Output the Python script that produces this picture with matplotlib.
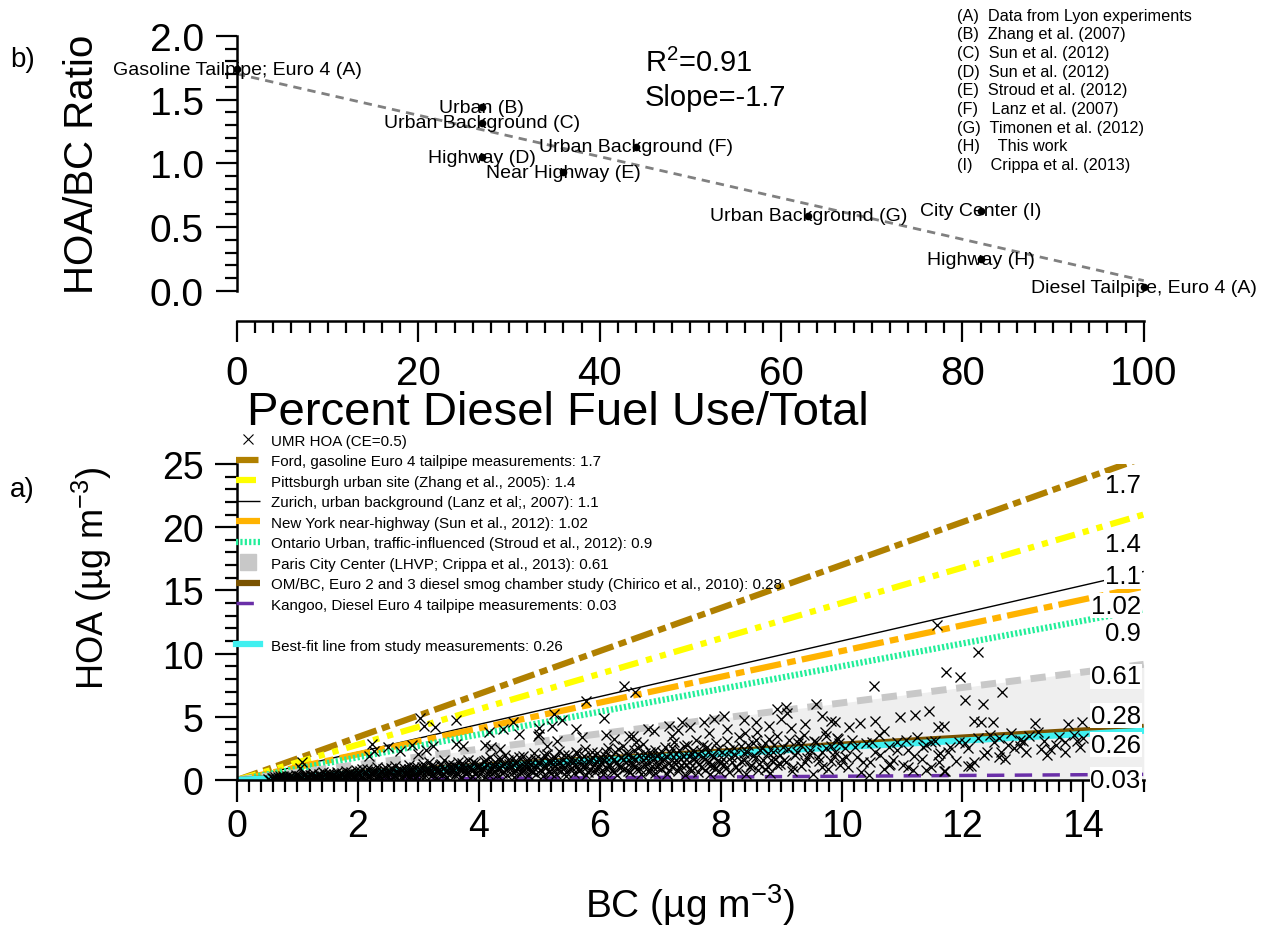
import numpy as np
import matplotlib
matplotlib.use('Agg')
import matplotlib.pyplot as plt
from matplotlib.lines import Line2D
from matplotlib.ticker import MultipleLocator, FormatStrFormatter

plt.rcParams['font.family'] = ['Liberation Sans', 'DejaVu Sans']
plt.rcParams['mathtext.fontset'] = 'custom'
plt.rcParams['mathtext.rm'] = 'Liberation Sans'
plt.rcParams['mathtext.it'] = 'Liberation Sans:italic'

# ---- panel b) datos
pct_diesel = [0, 27, 27, 27, 36, 44, 63, 82, 82, 100]
hoa_bc_ratio = [1.74, 1.44, 1.32, 1.05, 0.93, 1.13, 0.59, 0.63, 0.25, 0.03]
site_labels = ['Gasoline Tailpipe; Euro 4 (A)', 'Urban (B)', 'Urban Background (C)',
               'Highway (D)', 'Near Highway (E)', 'Urban Background (F)',
               'Urban Background (G)', 'City Center (I)', 'Highway (H)',
               'Diesel Tailpipe, Euro 4 (A)']
references = ['(A)  Data from Lyon experiments', '(B)  Zhang et al. (2007)',
              '(C)  Sun et al. (2012)', '(D)  Sun et al. (2012)',
              '(E)  Stroud et al. (2012)', '(F)   Lanz et al. (2007)',
              '(G)  Timonen et al. (2012)', '(H)    This work',
              '(I)    Crippa et al. (2013)']

# ---- panel a) datos
ref_slopes = [1.7, 1.4, 1.1, 1.02, 0.9, 0.61, 0.28, 0.03]
fit_slope = 0.26
ref_names = ['Ford, gasoline Euro 4 tailpipe measurements: 1.7',
             'Pittsburgh urban site (Zhang et al., 2005): 1.4',
             'Zurich, urban background (Lanz et al;, 2007): 1.1',
             'New York near-highway (Sun et al., 2012): 1.02',
             'Ontario Urban, traffic-influenced (Stroud et al., 2012): 0.9',
             'Paris City Center (LHVP; Crippa et al., 2013): 0.61',
             'OM/BC, Euro 2 and 3 diesel smog chamber study (Chirico et al., 2010): 0.28',
             'Kangoo, Diesel Euro 4 tailpipe measurements: 0.03']
fit_name = 'Best-fit line from study measurements: 0.26'
end_labels = ['1.7', '1.4', '1.1', '1.02', '0.9', '0.61', '0.28', '0.26', '0.03']
end_label_y = [23.3, 18.7, 16.1, 13.8, 11.6, 8.2, 5.1, 2.8, 0.0]

umr_points = [
    (0.52,0.10),(0.55,0.04),(0.58,0.18),(0.61,0.09),(0.63,0.25),(0.66,0.05),(0.69,0.14),(0.71,0.30),
    (0.74,0.08),(0.77,0.20),(0.79,0.03),(0.82,0.35),(0.85,0.12),(0.87,0.22),(0.90,0.06),(0.93,0.28),
    (0.95,0.15),(0.98,0.40),(1.01,0.10),(1.03,0.31),(1.06,0.19),(1.09,0.05),(1.12,0.44),(1.14,0.25),
    (1.17,0.12),(1.20,0.36),(1.23,0.07),(1.25,0.52),(1.28,0.21),(1.31,0.30),(1.33,0.11),(1.36,0.46),
    (1.39,0.17),(1.42,0.60),(1.44,0.08),(1.47,0.33),(1.50,0.24),(1.53,0.55),(1.55,0.13),(1.58,0.40),
    (1.61,0.06),(1.64,0.28),(1.66,0.67),(1.69,0.19),(1.72,0.47),(1.75,0.10),(1.77,0.35),(1.80,0.72),
    (1.83,0.23),(1.86,0.52),(1.88,0.09),(1.91,0.41),(1.94,0.30),(1.97,0.78),(1.99,0.16),
    (2.02,0.55),(2.05,0.27),(2.07,0.90),(2.10,0.12),(2.13,0.66),(2.16,0.38),(2.18,0.21),(2.21,0.80),
    (2.24,0.47),(2.27,0.09),(2.29,0.60),(2.32,1.02),(2.35,0.33),(2.38,0.72),(2.40,0.18),(2.43,0.52),
    (2.46,0.95),(2.49,0.28),(2.51,0.66),(2.54,0.11),(2.57,0.84),(2.60,0.43),(2.62,1.10),(2.65,0.24),
    (2.68,0.58),(2.71,0.76),(2.73,0.15),(2.76,0.98),(2.79,0.37),(2.82,0.63),(2.84,1.20),(2.87,0.29),
    (2.90,0.82),(2.93,0.50),(2.95,0.14),(2.98,1.05),
    (3.01,0.40),(3.04,0.78),(3.07,1.25),(3.09,0.22),(3.12,0.60),(3.15,0.95),(3.18,1.40),(3.21,0.35),
    (3.23,0.70),(3.26,1.10),(3.29,0.18),(3.32,0.52),(3.35,0.88),(3.37,1.30),(3.40,0.44),(3.43,1.55),
    (3.46,0.66),(3.48,0.27),(3.51,1.02),(3.54,0.80),(3.57,1.18),(3.60,0.38),(3.62,0.58),(3.65,1.45),
    (3.68,0.92),(3.71,0.25),(3.74,1.22),(3.76,0.70),(3.79,0.48),(3.82,1.60),(3.85,1.00),(3.88,0.32),
    (3.90,0.83),(3.93,1.35),(3.96,0.57),(3.99,1.12),
    (4.02,0.45),(4.05,0.95),(4.08,1.50),(4.10,0.28),(4.13,1.20),(4.16,0.70),(4.19,1.85),(4.22,0.52),
    (4.25,1.05),(4.27,1.40),(4.30,0.36),(4.33,0.85),(4.36,1.65),(4.39,1.15),(4.42,0.60),(4.44,2.00),
    (4.47,0.42),(4.50,1.30),(4.53,0.95),(4.56,1.75),(4.58,0.25),(4.61,0.75),(4.64,1.45),(4.67,1.10),
    (4.70,0.55),(4.73,1.90),(4.75,0.88),(4.78,1.25),(4.81,0.40),(4.84,1.60),(4.87,0.68),(4.90,1.05),
    (4.92,2.10),(4.95,0.50),(4.98,1.35),
    (5.01,0.80),(5.04,1.55),(5.07,0.35),(5.10,1.15),(5.13,2.05),(5.16,0.62),(5.19,1.40),(5.21,0.95),
    (5.24,1.80),(5.27,0.45),(5.30,1.25),(5.33,2.30),(5.36,0.75),(5.39,1.60),(5.42,1.05),(5.45,0.30),
    (5.48,1.95),(5.51,0.90),(5.54,1.35),(5.57,0.55),(5.60,2.20),(5.63,1.15),(5.66,0.70),(5.69,1.70),
    (5.72,1.00),(5.75,2.45),(5.78,0.40),(5.81,1.48),(5.84,0.85),(5.87,1.85),(5.90,1.20),(5.93,0.60),
    (5.96,2.10),(5.99,1.00),
    (6.02,1.40),(6.05,0.50),(6.08,1.90),(6.11,0.95),(6.14,2.50),(6.17,1.20),(6.20,0.70),(6.23,1.65),
    (6.26,2.20),(6.29,0.40),(6.32,1.05),(6.35,1.80),(6.38,2.70),(6.41,0.85),(6.44,1.40),(6.47,2.05),
    (6.50,0.60),(6.53,1.20),(6.56,2.40),(6.59,1.60),(6.62,0.90),(6.65,1.95),(6.68,0.45),(6.71,2.85),
    (6.74,1.30),(6.77,1.75),(6.80,0.75),(6.83,2.25),(6.86,1.10),(6.89,1.55),(6.92,0.55),(6.95,2.00),
    (6.98,1.25),
    (7.02,0.90),(7.05,1.70),(7.08,2.60),(7.11,0.50),(7.14,1.35),(7.17,2.15),(7.20,1.00),(7.23,3.00),
    (7.26,1.60),(7.29,0.70),(7.32,2.40),(7.35,1.20),(7.38,1.90),(7.41,0.40),(7.44,2.75),(7.47,1.45),
    (7.50,0.95),(7.53,2.05),(7.56,1.70),(7.59,3.20),(7.62,0.60),(7.65,1.25),(7.68,2.30),(7.71,1.85),
    (7.74,0.80),(7.77,2.60),(7.80,1.40),(7.83,0.45),(7.86,2.00),(7.89,1.10),(7.92,2.90),(7.95,1.60),
    (7.98,0.70),
    (8.02,2.20),(8.06,1.30),(8.10,3.10),(8.14,0.60),(8.18,1.80),(8.22,2.55),(8.26,1.00),(8.30,3.40),
    (8.34,1.50),(8.38,2.10),(8.42,0.45),(8.46,2.80),(8.50,1.20),(8.54,1.90),(8.58,3.20),(8.62,0.80),
    (8.66,2.40),(8.70,1.55),(8.74,2.95),(8.78,1.05),(8.82,0.55),(8.86,2.20),(8.90,1.70),(8.94,3.50),
    (8.98,1.25),
    (9.03,2.60),(9.08,1.40),(9.13,3.20),(9.18,0.70),(9.23,2.00),(9.28,2.90),(9.33,1.10),(9.38,3.60),
    (9.43,1.75),(9.48,2.40),(9.53,0.50),(9.58,3.00),(9.63,1.50),(9.68,2.20),(9.73,3.80),(9.78,0.90),
    (9.83,2.70),(9.88,1.90),(9.93,3.30),(9.98,1.20),
    (10.05,2.50),(10.10,1.00),(10.18,3.20),(10.25,1.80),(10.32,0.60),(10.40,2.90),(10.47,1.45),
    (10.55,2.20),(10.62,3.60),(10.70,0.90),(10.78,2.60),(10.85,1.60),(10.92,3.00),
    (11.02,1.20),(11.10,2.40),(11.18,0.80),(11.25,3.40),(11.33,1.70),(11.40,2.80),(11.48,1.05),
    (11.55,3.10),(11.63,2.10),(11.72,0.70),(11.80,2.60),(11.90,1.50),
    (12.05,2.90),(12.15,1.10),(12.25,3.30),(12.40,2.20),(12.52,3.00),(12.70,1.70),(12.85,2.50),
    (12.95,3.20),(13.10,3.50),(13.35,3.10),(13.55,2.80),(13.85,3.60),(13.95,2.60),
    # nucleo denso, segunda pasada
    (0.60,0.20),(0.64,0.12),(0.68,0.26),(0.72,0.15),(0.76,0.32),(0.80,0.18),(0.84,0.08),(0.88,0.30),
    (0.92,0.19),(0.96,0.11),(1.00,0.34),(1.04,0.22),(1.08,0.14),(1.11,0.38),(1.15,0.27),(1.19,0.16),
    (1.22,0.42),(1.26,0.30),(1.30,0.19),(1.34,0.08),(1.37,0.35),(1.41,0.26),(1.45,0.44),(1.48,0.14),
    (1.52,0.38),(1.56,0.29),(1.60,0.50),(1.63,0.18),(1.67,0.39),(1.71,0.27),(1.74,0.58),(1.78,0.14),
    (1.82,0.44),(1.85,0.31),(1.89,0.60),(1.93,0.21),(1.96,0.48),
    (2.00,0.36),(2.04,0.70),(2.08,0.20),(2.11,0.46),(2.15,0.85),(2.19,0.30),(2.22,0.58),(2.26,0.40),
    (2.30,0.75),(2.33,0.25),(2.37,0.52),(2.41,0.88),(2.44,0.36),(2.48,0.65),(2.52,0.46),(2.55,0.95),
    (2.59,0.30),(2.63,0.72),(2.66,0.50),(2.70,0.90),(2.74,0.38),(2.77,0.62),(2.81,0.45),(2.85,0.85),
    (2.88,0.55),(2.92,1.00),(2.96,0.35),(2.99,0.70),(3.03,0.55),(3.06,1.05),(3.10,0.45),(3.14,0.82),
    (3.17,0.62),(3.21,1.15),(3.25,0.50),(3.28,0.90),(3.32,0.70),(3.36,1.20),(3.39,0.40),(3.43,0.95),
    (3.47,0.75),(3.50,1.30),(3.54,0.55),(3.58,0.88),(3.61,1.08),(3.65,0.48),(3.69,0.80),(3.72,1.35),
    (3.76,0.95),(3.80,0.62),(3.83,1.15),(3.87,0.78),(3.91,1.45),(3.94,0.50),(3.98,0.92),
    (4.01,1.20),(4.05,0.68),(4.09,1.05),(4.12,1.55),(4.16,0.45),(4.20,0.90),(4.23,1.30),(4.27,0.75),
    (4.31,1.70),(4.34,1.00),(4.38,0.55),(4.42,1.25),(4.45,0.85),(4.49,1.55),(4.53,1.10),(4.56,0.62),
    (4.60,1.35),(4.64,0.95),(4.67,1.80),(4.71,0.70),(4.75,1.15),(4.78,1.50),(4.82,0.85),(4.86,1.25),
    (4.89,0.60),(4.93,1.70),(4.97,1.00),
    (5.00,1.40),(5.04,0.70),(5.08,1.95),(5.11,1.05),(5.15,1.50),(5.19,0.55),(5.22,1.25),(5.26,1.75),
    (5.30,0.85),(5.33,1.45),(5.37,1.10),(5.41,2.00),(5.44,0.65),(5.48,1.30),(5.52,1.70),(5.55,0.95),
    (5.59,1.55),(5.63,2.10),(5.66,0.80),(5.70,1.25),(5.74,1.90),(5.77,1.05),(5.81,0.60),(5.85,1.60),
    (5.88,2.25),(5.92,0.90),(5.96,1.40),(5.99,1.75),
    (6.03,0.80),(6.07,1.55),(6.11,2.25),(6.15,1.10),(6.19,1.80),(6.23,0.65),(6.27,1.35),(6.31,2.45),
    (6.35,1.00),(6.39,1.60),(6.43,2.10),(6.47,0.75),(6.51,1.45),(6.55,1.85),(6.59,1.10),(6.63,2.55),
    (6.67,0.90),(6.71,1.55),(6.75,2.15),(6.79,1.25),(6.83,0.70),(6.87,1.90),(6.91,2.40),(6.95,1.05),
    (6.99,1.65),
    (7.03,2.20),(7.07,1.15),(7.11,1.85),(7.15,0.80),(7.19,2.50),(7.23,1.40),(7.27,2.05),(7.31,0.95),
    (7.35,1.65),(7.39,2.70),(7.43,1.20),(7.47,1.90),(7.51,0.75),(7.55,2.35),(7.59,1.50),(7.63,2.05),
    (7.67,1.00),(7.71,2.80),(7.75,1.65),(7.79,2.20),(7.83,1.15),(7.87,1.80),(7.91,0.85),(7.95,2.45),
    (7.99,1.35),
    (8.04,1.70),(8.09,0.95),(8.14,2.40),(8.19,1.45),(8.24,2.00),(8.29,0.80),(8.34,2.70),(8.39,1.60),
    (8.44,2.25),(8.49,1.05),(8.54,2.90),(8.59,1.85),(8.64,1.30),(8.69,2.50),(8.74,0.90),(8.79,2.10),
    (8.84,1.60),(8.89,2.75),(8.94,1.20),(8.99,2.00),
    (9.05,1.60),(9.12,2.45),(9.19,1.00),(9.26,2.20),(9.33,2.80),(9.40,1.40),(9.47,2.05),(9.54,3.10),
    (9.61,1.80),(9.68,1.05),(9.75,2.50),(9.82,1.50),(9.89,2.25),(9.96,2.95),
    (10.08,1.80),(10.22,2.60),(10.36,1.40),(10.50,3.00),(10.64,2.00),(10.78,1.20),(10.92,2.40),
    (11.06,3.20),(11.20,1.90),(11.34,2.60),(11.48,3.00),(11.62,1.40),(11.76,2.20),(11.95,3.00),
    (12.10,2.50),(12.35,2.00),(12.45,3.60),(12.75,2.80),(13.00,3.10),(13.40,2.00),(13.60,3.40),
    (13.90,3.10),
    # puntos altos / dispersos
    (1.07,1.42),(1.04,0.95),(2.19,1.90),(2.23,2.85),(2.26,2.30),(2.50,2.60),(2.69,2.30),(2.89,2.77),
    (3.00,2.06),(3.13,2.37),(3.25,2.69),(3.02,4.90),(3.09,4.30),(3.27,4.20),(3.63,4.75),(3.63,2.85),
    (3.74,2.69),(4.17,3.80),(4.40,4.00),(4.57,4.60),(4.67,3.64),(4.98,3.48),(5.00,4.10),(4.20,2.60),
    (4.35,2.45),(4.10,2.80),(6.40,7.44),(6.58,6.96),(5.78,6.25),(5.25,5.22),(5.38,4.75),(5.21,4.27),
    (5.60,4.00),(6.07,4.90),(5.00,3.64),(5.13,2.69),(6.24,3.24),(6.49,3.48),(6.55,3.45),(6.80,4.00),
    (7.15,4.27),(7.36,4.60),(7.30,3.96),(7.72,4.60),(7.89,4.80),(8.05,5.06),(8.38,4.75),(8.58,4.60),
    (8.93,5.60),(9.08,5.78),(9.10,5.30),(9.57,6.00),(9.67,5.06),(9.82,4.67),(8.60,3.80),(8.80,3.24),
    (9.17,4.10),(9.30,3.24),(9.74,3.48),(9.95,3.24),(5.30,3.10),(5.70,3.40),(6.10,3.60),(6.60,3.00),
    (6.90,3.90),(7.20,3.50),(7.50,4.20),(7.80,3.70),(8.10,4.00),(8.40,3.70),(8.80,4.30),(9.00,4.80),
    (9.40,4.40),(9.90,4.60),(10.30,4.50),(10.70,3.90),
    (12.26,10.10),(11.73,8.55),(11.96,8.15),(10.54,7.44),(12.66,6.96),(12.05,6.33),(12.34,6.00),
    (10.12,4.20),(10.56,4.67),(10.97,4.98),(11.22,5.14),(11.44,5.46),(11.60,4.20),(11.70,4.27),
    (12.20,4.67),(12.30,4.60),(12.50,4.60),(13.20,4.50),(13.75,4.43),(13.98,4.60),(12.60,3.30),
    (12.80,3.70),(12.95,2.70),(13.25,3.80),(13.30,2.45),(13.45,2.45),(13.70,3.00),(13.70,2.20),
    (14.00,3.30),(13.05,2.20),(12.64,2.20),(12.60,1.80),(12.20,1.42),(12.10,1.10),(11.70,0.70),
    (11.60,2.00),(10.00,1.66),(10.45,0.40),(10.80,1.30),(11.10,1.00),(11.40,0.80),(11.58,12.30),
]

umr_bc = np.array([p[0] for p in umr_points])
umr_hoa = np.array([p[1] for p in umr_points])

fig = plt.figure(figsize=(12.7, 9.45), dpi=100)

# ================= panel b)
ax1 = fig.add_axes([0.1866, 0.691, 0.714, 0.270])
coef = np.polyfit(pct_diesel, hoa_bc_ratio, 1)
xfit = np.array([0, 100])
ax1.plot(xfit, np.polyval(coef, xfit), color='#808080', lw=2, dashes=(3, 2.2), zorder=1)
ax1.plot(pct_diesel, hoa_bc_ratio, 'o', color='black', ms=4.5, zorder=3, clip_on=False)
for x, y, s in zip(pct_diesel, hoa_bc_ratio, site_labels):
    ax1.text(x, y, s, fontsize=14, ha='center', va='center', zorder=2)

ax1.set_xlim(0, 100)
ax1.set_ylim(0, 2.0)
ax1.spines['top'].set_visible(False)
ax1.spines['right'].set_visible(False)
ax1.spines['bottom'].set_position(('outward', 21.6))
for sp in ['left', 'bottom']:
    ax1.spines[sp].set_linewidth(1.8)
ax1.xaxis.set_major_locator(MultipleLocator(20))
ax1.xaxis.set_minor_locator(MultipleLocator(2))
ax1.yaxis.set_major_locator(MultipleLocator(0.5))
ax1.yaxis.set_minor_locator(MultipleLocator(0.1))
ax1.yaxis.set_major_formatter(FormatStrFormatter('%.1f'))
ax1.tick_params(which='major', direction='out', length=15, width=1.6, labelsize=28, pad=9)
ax1.tick_params(axis='x', which='major', labelsize=29, pad=9)
ax1.tick_params(which='minor', direction='out', length=8.5, width=1.6)
ax1.set_xlabel('Percent Diesel Fuel Use/Total', fontsize=34, va='center')
ax1.xaxis.set_label_coords(0.354, -0.475)
ax1.set_ylabel('HOA/BC Ratio', fontsize=29, va='center')
ax1.yaxis.set_label_coords(-0.171, 0.5)

ax1.text(45, 1.79, 'R$^2$=0.91', fontsize=21, ha='left', va='center')
ax1.text(45, 1.52, 'Slope=-1.7', fontsize=21, ha='left', va='center')
for i, r in enumerate(references):
    fig.text(957 / 1270, 1 - (16 + i * 18.7) / 945, r, fontsize=11.7, ha='left', va='center')

fig.text(10 / 1270, 1 - 60 / 945, 'b)', fontsize=20, ha='left', va='center')
fig.text(10 / 1270, 1 - 490 / 945, 'a)', fontsize=20, ha='left', va='center')

# ================= panel a)
ax2 = fig.add_axes([0.1866, 0.1735, 0.714, 0.3345])
xs = np.array([0, 15])

colors = ['#b08000', '#ffff00', 'black', '#ffb300', '#22ee99', '#c8c8c8', '#7a5200', '#6a2fa8']
widths = [4.5, 4.5, 1.0, 4.5, 4.5, 5.0, 4.5, 2.5]
dashes = [(3.6, 0.9, 1.3, 0.9), (3.2, 1.3, 1.0, 1.3, 1.0, 1.3), None, (5.0, 1.0, 1.4, 1.0),
          (0.35, 0.35), (2.2, 1.4), None, (5.0, 3.0)]

ax2.fill_between(xs, 0, ref_slopes[5] * xs, color='#efefef', lw=0, zorder=0)
handles = [Line2D([], [], marker='x', ls='none', color='black', ms=7, mew=0.8)]
for k, sl in enumerate(ref_slopes):
    kw = dict(color=colors[k], lw=widths[k], solid_capstyle='butt', dash_capstyle='butt')
    if dashes[k] is not None:
        kw['dashes'] = dashes[k]
    ax2.plot(xs, sl * xs, zorder=2, **kw)
    if k == 5:
        handles.append(Line2D([], [], marker='s', ls='none', color='#c8c8c8', ms=11))
    else:
        handles.append(Line2D([], [], **kw))
ax2.plot(xs, fit_slope * xs, color='#40f0f0', lw=4.5, zorder=2)
handles.append(Line2D([], [], ls='none'))
handles.append(Line2D([], [], color='#40f0f0', lw=4.5))
labels = ['UMR HOA (CE=0.5)'] + ref_names + [' ', fit_name]

ax2.plot(umr_bc, umr_hoa, 'x', color='black', ms=7, mew=0.95, zorder=3)

for s, y in zip(end_labels, end_label_y):
    ax2.text(14.95, y, s, fontsize=18.5, ha='right', va='center', zorder=5, clip_on=False,
             bbox=dict(facecolor='white', edgecolor='none', pad=0.5))

ax2.set_xlim(0, 15)
ax2.set_ylim(0, 25)
ax2.spines['top'].set_visible(False)
ax2.spines['right'].set_visible(False)
for sp in ['left', 'bottom']:
    ax2.spines[sp].set_linewidth(1.8)
ax2.xaxis.set_major_locator(MultipleLocator(2))
ax2.xaxis.set_minor_locator(MultipleLocator(0.2))
ax2.yaxis.set_major_locator(MultipleLocator(5))
ax2.yaxis.set_minor_locator(MultipleLocator(1))
ax2.tick_params(which='major', direction='out', length=16, width=1.6, labelsize=27, pad=4)
ax2.tick_params(axis='y', which='major', pad=8)
ax2.tick_params(which='minor', direction='out', length=8.5, width=1.6)
ax2.set_xlabel('BC (µg m$^{-3}$)', fontsize=28, va='center')
ax2.xaxis.set_label_coords(0.5, -0.392)
ax2.set_ylabel('HOA (µg m$^{-3}$)', fontsize=26, va='center')
ax2.yaxis.set_label_coords(-0.16, 0.642)

fig.legend(handles, labels, loc='upper left', bbox_to_anchor=(0.186, 0.54), frameon=False,
           fontsize=10.9, handlelength=1.6, handletextpad=0.7, labelspacing=0.43,
           borderpad=0, borderaxespad=0)

fig.savefig('out.png', dpi=100)
